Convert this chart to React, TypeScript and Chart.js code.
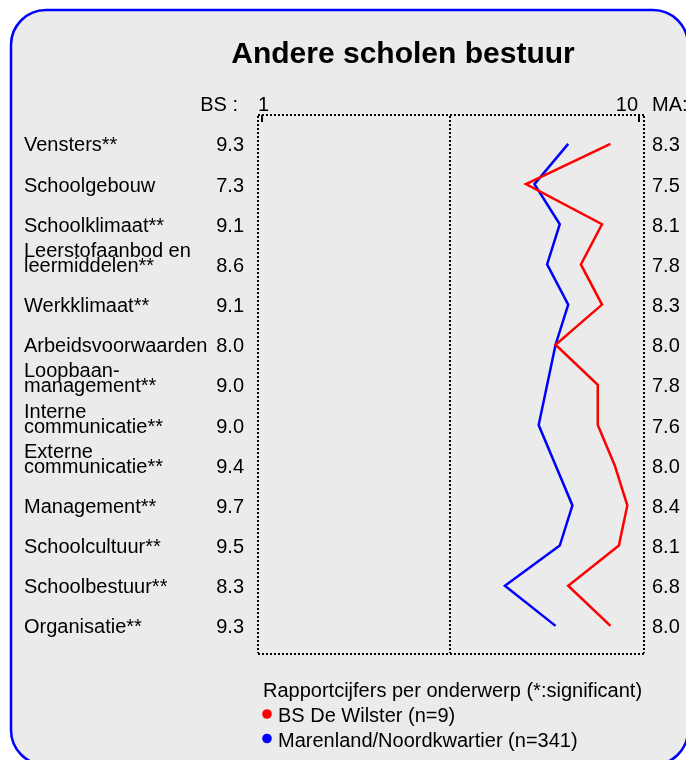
import React, { useEffect, useRef } from "react";
import { Chart, registerables } from "chart.js";

Chart.register(...registerables);

const title = "Andere scholen bestuur";
const categories: string[][] = [
  ["Vensters**"],
  ["Schoolgebouw"],
  ["Schoolklimaat**"],
  ["Leerstofaanbod en", "leermiddelen**"],
  ["Werkklimaat**"],
  ["Arbeidsvoorwaarden"],
  ["Loopbaan-", "management**"],
  ["Interne", "communicatie**"],
  ["Externe", "communicatie**"],
  ["Management**"],
  ["Schoolcultuur**"],
  ["Schoolbestuur**"],
  ["Organisatie**"],
];
const bsValues = [9.3, 7.3, 9.1, 8.6, 9.1, 8.0, 9.0, 9.0, 9.4, 9.7, 9.5, 8.3, 9.3];
const maValues = [8.3, 7.5, 8.1, 7.8, 8.3, 8.0, 7.8, 7.6, 8.0, 8.4, 8.1, 6.8, 8.0];
const seriesNames = ["BS De Wilster (n=9)", "Marenland/Noordkwartier (n=341)"];
const legendTitle = "Rapportcijfers per onderwerp (*:significant)";
const scaleMin = 1;
const scaleMax = 10;
const leftHeader = "BS :";
const rightHeader = "MA:";

const FONT = '"Liberation Sans", Arial, sans-serif';
const RED = "#ff0000";
const BLUE = "#0000ff";

function roundRectPath(ctx: CanvasRenderingContext2D, x: number, y: number, w: number, h: number, r: number) {
  ctx.beginPath();
  ctx.moveTo(x + r, y);
  ctx.lineTo(x + w - r, y);
  ctx.arc(x + w - r, y + r, r, -Math.PI / 2, 0);
  ctx.lineTo(x + w, y + h - r);
  ctx.arc(x + w - r, y + h - r, r, 0, Math.PI / 2);
  ctx.lineTo(x + r, y + h);
  ctx.arc(x + r, y + h - r, r, Math.PI / 2, Math.PI);
  ctx.lineTo(x, y + r);
  ctx.arc(x + r, y + r, r, Math.PI, Math.PI * 1.5);
  ctx.closePath();
}

const decoPlugin = {
  id: "deco",
  beforeDraw(chart: any) {
    const ctx: CanvasRenderingContext2D = chart.ctx;
    ctx.save();
    ctx.fillStyle = "#ffffff";
    ctx.fillRect(0, 0, chart.width, chart.height);
    roundRectPath(ctx, 11, 10, 677, 755, 35);
    ctx.fillStyle = "#ebebeb";
    ctx.fill();
    ctx.lineWidth = 2.5;
    ctx.strokeStyle = BLUE;
    ctx.stroke();
    ctx.restore();
  },
  beforeDatasetsDraw(chart: any) {
    const ctx: CanvasRenderingContext2D = chart.ctx;
    const a = chart.chartArea;
    const xs = chart.scales.x;
    const L = Math.round(a.left - 2);
    const R = Math.round(a.right + 4);
    const T = Math.round(a.top + 1);
    const B = Math.round(a.bottom + 1);
    const mid = Math.round(xs.getPixelForValue((scaleMin + scaleMax) / 2));
    ctx.save();
    ctx.strokeStyle = "#000";
    ctx.lineWidth = 2;
    ctx.lineCap = "butt";
    ctx.setLineDash([2, 2]);
    const seg = (x1: number, y1: number, x2: number, y2: number) => {
      ctx.beginPath();
      ctx.moveTo(x1, y1);
      ctx.lineTo(x2, y2);
      ctx.stroke();
    };
    seg(L, T - 1, R, T - 1);
    seg(R, T, R, B);
    seg(L, B + 1, R, B + 1);
    seg(L, T, L, B);
    seg(mid, T, mid, B);
    ctx.setLineDash([]);
    const x1 = Math.round(xs.getPixelForValue(scaleMin)) + 2;
    const x10 = Math.round(xs.getPixelForValue(scaleMax)) - 1;
    seg(x1, T - 1, x1, T + 6);
    seg(x10, T - 1, x10, T + 6);
    ctx.restore();
  },
  afterDraw(chart: any) {
    const ctx: CanvasRenderingContext2D = chart.ctx;
    const xs = chart.scales.x;
    const ys = chart.scales.y;
    ctx.save();
    ctx.fillStyle = "#000";
    // title
    ctx.font = `bold 30px ${FONT}`;
    ctx.textAlign = "center";
    ctx.textBaseline = "alphabetic";
    ctx.fillText(title, 403, 62.5);
    // headers
    ctx.font = `20px ${FONT}`;
    ctx.textAlign = "right";
    ctx.fillText(leftHeader, 238, 111);
    ctx.textAlign = "left";
    ctx.fillText(String(scaleMin), xs.getPixelForValue(scaleMin) - 2, 111);
    ctx.textAlign = "right";
    ctx.fillText(String(scaleMax), xs.getPixelForValue(scaleMax) - 2, 111);
    ctx.textAlign = "left";
    ctx.fillText(rightHeader, 652, 111);
    // rows
    categories.forEach((lines, i) => {
      const base = ys.getPixelForValue(i) + 7.5;
      ctx.textAlign = "left";
      for (let k = 0; k < lines.length; k++) {
        const off = (lines.length - 1 - k) * 15;
        ctx.fillText(lines[k], 24, base - off);
      }
      ctx.textAlign = "right";
      ctx.fillText(bsValues[i].toFixed(1), 244, base);
      ctx.textAlign = "left";
      ctx.fillText(maValues[i].toFixed(1), 652, base);
    });
    // legend
    ctx.textAlign = "left";
    ctx.fillText(legendTitle, 263, 697);
    const colors = [RED, BLUE];
    seriesNames.forEach((n, i) => {
      const yb = 722 + i * 24.5;
      ctx.fillStyle = colors[i];
      ctx.beginPath();
      ctx.arc(267, yb - 8, 4.8, 0, Math.PI * 2);
      ctx.fill();
      ctx.fillStyle = "#000";
      ctx.fillText(n, 278, yb);
    });
    ctx.restore();
  },
};

export default function App() {
  const ref = useRef<HTMLCanvasElement | null>(null);
  useEffect(() => {
    if (!ref.current) return;
    const chart = new Chart(ref.current, {
      type: "scatter",
      data: {
        datasets: [
          {
            label: seriesNames[0],
            data: bsValues.map((v, i) => ({ x: v, y: i })),
            showLine: true,
            borderColor: RED,
            backgroundColor: RED,
            borderWidth: 2.5,
            pointRadius: 0,
            tension: 0,
          },
          {
            label: seriesNames[1],
            data: maValues.map((v, i) => ({ x: v, y: i })),
            showLine: true,
            borderColor: BLUE,
            backgroundColor: BLUE,
            borderWidth: 2.5,
            pointRadius: 0,
            tension: 0,
          },
        ],
      },
      options: {
        responsive: false,
        animation: false,
        layout: { padding: { left: 260, right: 46, top: 115, bottom: 108 } },
        scales: {
          x: { type: "linear", min: scaleMin, max: scaleMax, display: false },
          y: { type: "linear", min: -0.72, max: 12.65, reverse: true, display: false },
        },
        plugins: {
          legend: { display: false },
          tooltip: { enabled: false },
          title: { display: false },
        },
      },
      plugins: [decoPlugin],
    });
    return () => chart.destroy();
  }, []);
  return (
    <canvas
      ref={ref}
      width={686}
      height={760}
      style={{ position: "absolute", left: 0, top: 0, width: 686, height: 760, display: "block" }}
    />
  );
}
